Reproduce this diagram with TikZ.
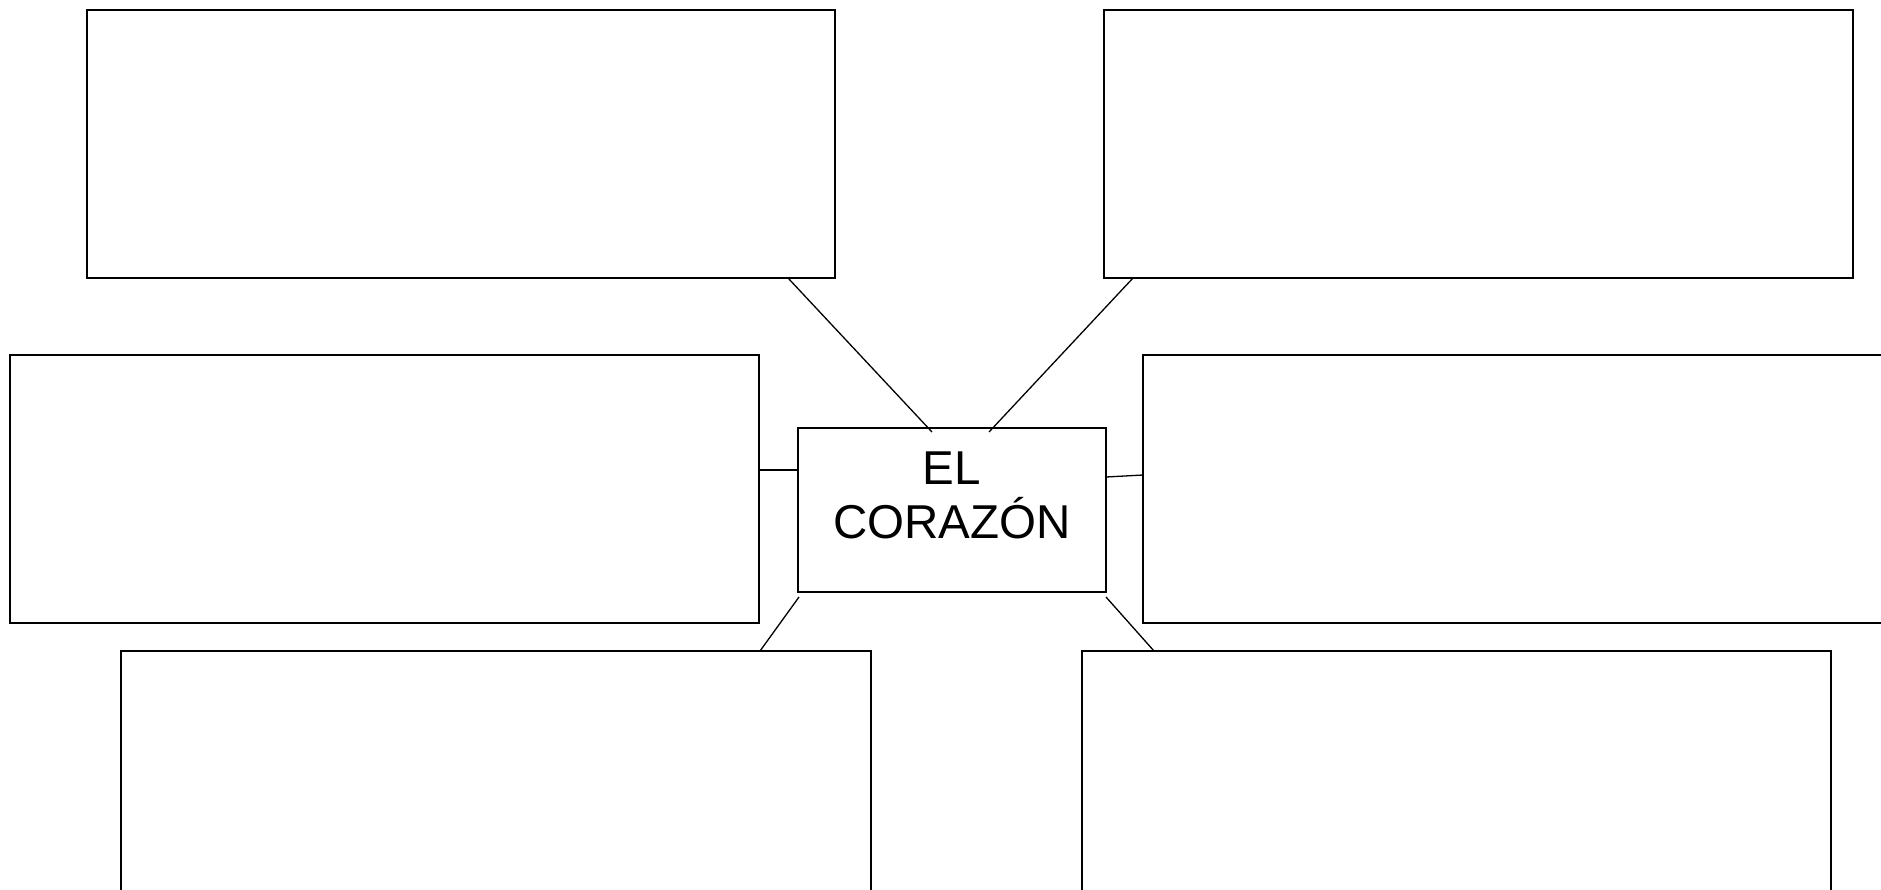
\documentclass[tikz,border=0pt]{standalone}
\usepackage{fontspec}
\setmainfont{Liberation Sans}
\begin{document}
\begin{tikzpicture}[x=1pt,y=-1pt,
  box/.style={draw, rectangle, line width=1.3pt, inner sep=0pt, outer sep=0pt, anchor=north west},
  link/.style={line width=1.3pt}]
\useasboundingbox (0,0) rectangle (1881,889);
\clip (0,0) rectangle (1881,889);
\node[box, minimum width=748pt, minimum height=268pt] (tl) at (87,10) {};
\node[box, minimum width=749pt, minimum height=268pt] (tr) at (1104,10) {};
\node[box, minimum width=749pt, minimum height=268pt] (ml) at (10,355) {};
\node[box, minimum width=760pt, minimum height=268pt] (mr) at (1143,355) {};
\node[box, minimum width=750pt, minimum height=290pt] (bl) at (121,651) {};
\node[box, minimum width=749pt, minimum height=290pt] (br) at (1082,651) {};
\node[box, minimum width=308pt, minimum height=164pt] (c) at (798,428) {};
\node[align=center, font=\fontsize{47.5}{54}\selectfont, anchor=base, inner sep=0pt] (ctext) at (952,538) {EL\\CORAZÓN};
\draw[link] ([xshift=-47pt]tl.south east) -- ([xshift=-20pt,yshift=-4pt]c.north);
\draw[link] ([xshift=29pt]tr.south west) -- ([xshift=37pt,yshift=-4pt]c.north);
\draw[link] ([yshift=19pt]ml.east) -- ([yshift=40pt]c.west);
\draw[link] ([yshift=33pt]c.east) -- ([yshift=14pt]mr.west);
\draw[link] ([xshift=1pt,yshift=-5pt]c.south west) -- ([xshift=639pt]bl.north west);
\draw[link] ([yshift=-5pt]c.south east) -- ([xshift=72pt]br.north west);
\end{tikzpicture}
\end{document}
